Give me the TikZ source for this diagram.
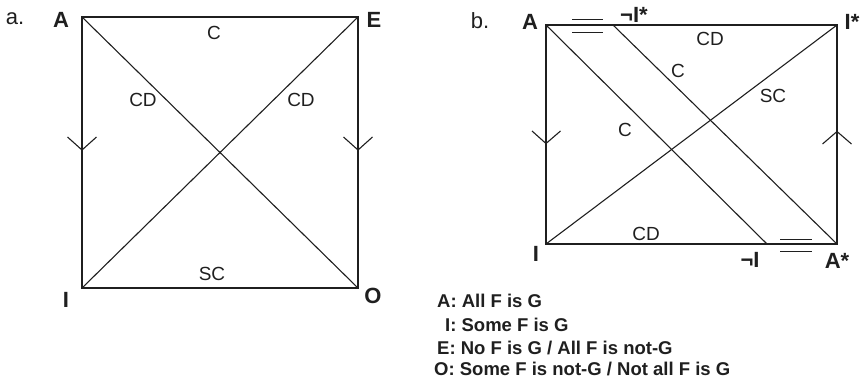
\documentclass[tikz,border=0pt]{standalone}
\usepackage{fontspec}
\setmainfont{Liberation Sans}
\begin{document}
\begin{tikzpicture}[x=1pt,y=-1pt,
  ink/.style={draw=black!88},
  sq/.style={ink, line width=1.6pt},
  dg/.style={ink, line width=1.1pt},
  mk/.style={ink, line width=1.1pt},
  lab/.style={text=black!88, font=\fontsize{19}{19}\selectfont, inner sep=0pt},
  vtx/.style={text=black!88, font=\fontsize{22}{22}\selectfont\bfseries, inner sep=0pt},
  leg/.style={text=black!88, font=\fontsize{18.5}{18.5}\selectfont\bfseries, inner sep=0pt, anchor=base west},
]
\useasboundingbox (0,0) rectangle (865,378);

% ---------------- diagram a ----------------
\coordinate (aA) at (82,17);
\coordinate (aE) at (358,17);
\coordinate (aI) at (82,288);
\coordinate (aO) at (358,288);
\draw[sq] (aA) -- (aE) -- (aO) -- (aI) -- cycle;
\draw[dg] (aA) -- (aO);
\draw[dg] (aE) -- (aI);
\coordinate (aL1) at (67.5,137); \coordinate (aL2) at (82,150); \coordinate (aL3) at (96.5,137);
\draw[mk] (aL1) -- (aL2) -- (aL3);
\coordinate (aR1) at (343.5,137); \coordinate (aR2) at (358,150); \coordinate (aR3) at (372.5,137);
\draw[mk] (aR1) -- (aR2) -- (aR3);

\node[lab, font=\fontsize{22}{22}\selectfont] (ta) at (15,19) {a.};
\node[vtx] (tA) at (61,20) {A};
\node[vtx] (tE) at (374,20) {E};
\node[vtx] (tI) at (66,300) {I};
\node[vtx] (tO) at (373,296) {O};
\node[lab] (tC) at (214,33) {C};
\node[lab] (tCD1) at (143,100) {CD};
\node[lab] (tCD2) at (301,100) {CD};
\node[lab] (tSC) at (212,274) {SC};

% ---------------- diagram b ----------------
\coordinate (bA) at (546,25);
\coordinate (bIs) at (837,25);
\coordinate (bI) at (546,244);
\coordinate (bAs) at (837,244);
\coordinate (bnIs) at (613,25);
\coordinate (bnI) at (767,244);
\draw[sq] (bA) -- (bIs) -- (bAs) -- (bI) -- cycle;
\draw[dg] (bA) -- (bnI);
\draw[dg] (bnIs) -- (bAs);
\draw[dg] (bI) -- (bIs);
\coordinate (bL1) at (532,131); \coordinate (bL2) at (546,143.5); \coordinate (bL3) at (560.5,131);
\draw[mk] (bL1) -- (bL2) -- (bL3);
\coordinate (bR1) at (822.5,144); \coordinate (bR2) at (837,131.5); \coordinate (bR3) at (851.5,144);
\draw[mk] (bR1) -- (bR2) -- (bR3);
% equality marks
\coordinate (e1a) at (572,19.3); \coordinate (e1b) at (603,19.3);
\coordinate (e2a) at (572,32.3); \coordinate (e2b) at (603,32.3);
\draw[mk] (e1a) -- (e1b);
\draw[mk] (e2a) -- (e2b);
\coordinate (e3a) at (780,239.3); \coordinate (e3b) at (812,239.3);
\coordinate (e4a) at (780,251.7); \coordinate (e4b) at (812,251.7);
\draw[mk] (e3a) -- (e3b);
\draw[mk] (e4a) -- (e4b);

\node[lab, font=\fontsize{22}{22}\selectfont] (tb) at (480,21) {b.};
\node[vtx] (uA) at (530,22) {A};
\node[vtx] (unIs) at (634,15) {¬I*};
\node[vtx] (uIs) at (852,22) {I*};
\node[vtx] (uI) at (536,254) {I};
\node[vtx] (unI) at (750,260) {¬I};
\node[vtx] (uAs) at (837,261) {A*};
\node[lab] (uCD1) at (710,39) {CD};
\node[lab] (uC1) at (678,71) {C};
\node[lab] (uSC) at (773,96) {SC};
\node[lab] (uC2) at (625,130) {C};
\node[lab] (uCD2) at (646,234) {CD};

% legend
\node[leg] (l1) at (437,307.5) {A: All F is G};
\node[leg] (l2) at (445,331) {I: Some F is G};
\node[leg] (l3) at (437,354) {E: No F is G / All F is not-G};
\node[leg] (l4) at (434,375.5) {O: Some F is not-G / Not all F is G};
\end{tikzpicture}
\end{document}
